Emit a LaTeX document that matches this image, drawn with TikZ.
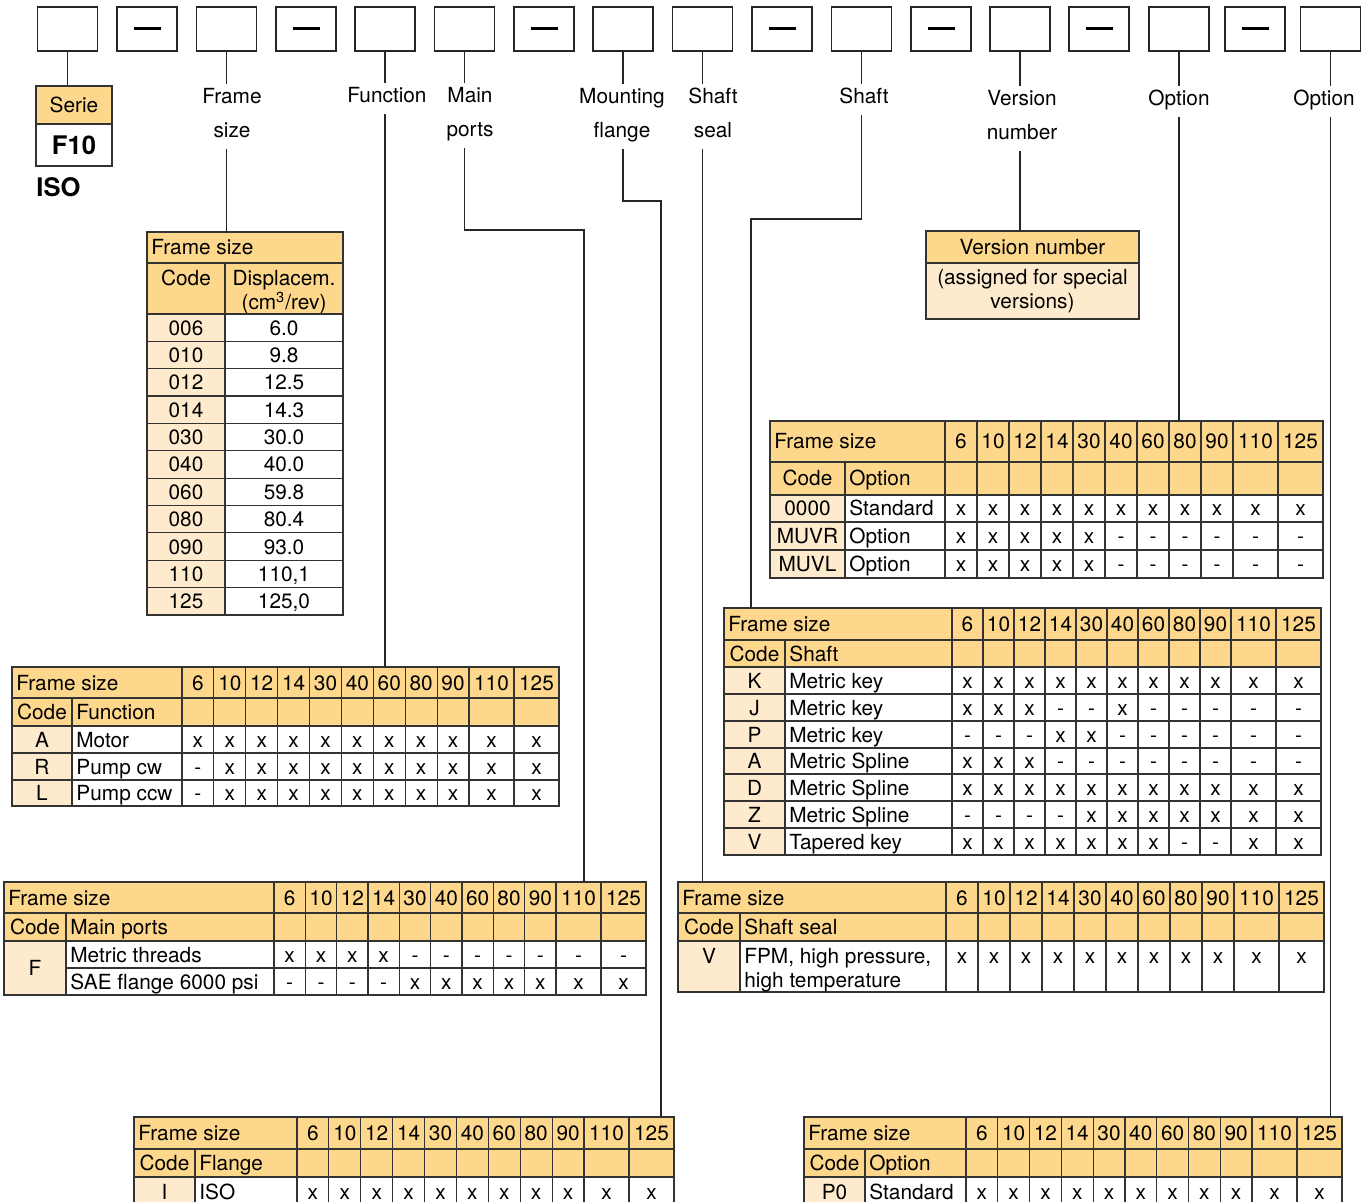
\documentclass[tikz,border=0pt]{standalone}
\usepackage{fontspec}
\setmainfont{TeX Gyre Heros}
\usepackage{tikz}
\usetikzlibrary{positioning}
\usepackage{xcolor}
\definecolor{tabhead}{RGB}{253,215,140}
\definecolor{tabcode}{RGB}{254,235,205}
\newcommand{\tabfont}{\fontsize{10.4}{12}\selectfont}

% table helpers: left edge, code/desc split, first size column, right edge
\newcommand{\settable}[4]{%
  \def\tabL{#1}\def\tabC{#2}\def\tabD{#3}%
  \pgfmathsetmacro{\colw}{(#4-#3-90)/9}}
% the 11 frame size cells of one row
\newcommand{\gridcells}[3]{%
  \foreach \k in {0,...,10}{%
    \pgfmathsetmacro{\cellL}{\tabD+min(\k,9)*\colw+max(\k-9,0)*45}%
    \pgfmathsetmacro{\cellR}{\cellL+ifthenelse(\k<9,\colw,45)}%
    \draw[cell,fill=#1] (\cellL,#2) rectangle (\cellR,#3);}}
\newcommand{\gridvals}[3]{%
  \foreach \cellv [count=\k from 0] in {#3}{%
    \pgfmathsetmacro{\cellM}{\tabD+min(\k,9)*\colw+max(\k-9,0)*45+ifthenelse(\k<9,\colw,45)/2}%
    \node[val] (#1-\k) at (\cellM,{#2}) {\cellv};}}
% name, top, middle, bottom, title of the code column
\newcommand{\headrows}[5]{%
  \coordinate (#1) at (\tabL,#2);
  \draw[cell,fill=tabhead] (\tabL,#2) rectangle (\tabD,#3);
  \node[desc] (#1-t) at (\tabL,{(#2+#3)/2}) {Frame size};
  \gridcells{tabhead}{#2}{#3}
  \gridvals{#1-n}{(#2+#3)/2}{6,10,12,14,30,40,60,80,90,110,125}
  \draw[cell,fill=tabhead] (\tabL,#3) rectangle (\tabC,#4);
  \draw[cell,fill=tabhead] (\tabC,#3) rectangle (\tabD,#4);
  \gridcells{tabhead}{#3}{#4}
  \node[val] (#1-c) at ({(\tabL+\tabC)/2},{(#3+#4)/2}) {Code};
  \node[desc] (#1-d) at (\tabC,{(#3+#4)/2}) {#5};}
\newcommand{\descrow}[5]{%
  \draw[cell,fill=white] (\tabC,#2) rectangle (\tabD,#3);
  \node[desc] (#1-d) at (\tabC,{(#2+#3)/2}) {#4};
  \gridcells{white}{#2}{#3}
  \gridvals{#1}{(#2+#3)/2}{#5}}
\newcommand{\datarow}[6]{%
  \draw[cell,fill=tabcode] (\tabL,#2) rectangle (\tabC,#3);
  \node[val] (#1-c) at ({(\tabL+\tabC)/2},{(#2+#3)/2}) {#4};
  \descrow{#1}{#2}{#3}{#5}{#6}}

\begin{document}
\begin{tikzpicture}[x=0.5pt,y=-0.5pt,
    cell/.style={draw=black!80,line width=0.6pt},
    wire/.style={draw=black!85,line width=0.6pt},
    val/.style={font=\tabfont,inner sep=0pt,text height=7.5pt,text depth=0pt},
    desc/.style={val,anchor=west,inner xsep=2pt},
    multi/.style={font=\tabfont,align=center,inner sep=2pt},
    lbl/.style={font=\fontsize{10.4}{17}\selectfont,align=center,anchor=north,
      inner xsep=0pt,inner ysep=2pt,text depth=3.5pt},
    slot/.style={draw=black!85,line width=0.6pt,minimum width=30pt,minimum height=22pt,
      inner sep=0pt,outer sep=0pt},
    dashbar/.style={line width=1.5pt},
    headbox/.style={draw=black!80,line width=0.6pt,fill=tabhead,font=\tabfont,
      inner sep=0pt,outer sep=0pt},
    bodybox/.style={headbox,fill=white}]
  \useasboundingbox (0,0) rectangle (1363,1202);
  \clip (0,0) rectangle (1363,1202);

  % ordering code slots
  \foreach \x [count=\i] in {67.5,147,226.5,306,385,464.5,544,623,702.5,782,861.5,941,1020,1099,1179,1255,1330.5}
    \node[slot] (b\i) at (\x,29) {};
  \foreach \i in {2,4,7,10,12,14,16}
    \draw[dashbar] ([xshift=-6.75pt]b\i.center) -- ([xshift=6.75pt]b\i.center);

  % labels under the slots
  \node[lbl] (lblFrame) at (232,84) {Frame\\size};
  \node[lbl] (lblFunc) at (387,83) {Function};
  \node[lbl] (lblMain) at (470,83) {Main\\ports};
  \node[lbl] (lblMount) at (622,84) {Mounting\\flange};
  \node[lbl] (lblSeal) at (713,84) {Shaft\\seal};
  \node[lbl] (lblShaft) at (864,84) {Shaft};
  \node[lbl] (lblVer) at (1022,86) {Version\\number};
  \node[lbl] (lblOpt1) at (1179,86) {Option};
  \node[lbl] (lblOpt2) at (1324,86) {Option};

  % serie
  \node[headbox,minimum width=38pt,minimum height=19pt] (serie) at (74,105) {Serie};
  \node[bodybox,minimum width=38pt,minimum height=21pt,below=0pt of serie,
    font=\fontsize{12.8}{14}\selectfont\bfseries] (f10) {F10};
  \node[anchor=west,inner sep=0pt,font=\fontsize{12.8}{14}\selectfont\bfseries] (isolbl) at (36,187) {ISO};

  % version number
  \node[headbox,minimum width=106.5pt,minimum height=16pt] (ver) at (1032.5,247) {Version number};
  \node[headbox,fill=tabcode,minimum width=106.5pt,minimum height=28pt,align=center,
    below=0pt of ver] (verb) {(assigned for special\\versions)};

  % frame size / displacement
  \coordinate (fs) at (147,232);
  \draw[cell,fill=tabhead] (147,232) rectangle (343,263);
  \node[desc] (fs-t) at (147,247.5) {Frame size};
  \draw[cell,fill=tabhead] (147,263) rectangle (225,314);
  \draw[cell,fill=tabhead] (225,263) rectangle (343,314);
  \node[val,anchor=north] (fs-c) at (186,270) {Code};
  \node[multi,anchor=north,inner sep=0pt] (fs-d) at (284,270) {Displacem.\\(cm\textsuperscript{3}/rev)};
  \foreach \c/\d [count=\i from 0] in {006/6.0,010/9.8,012/12.5,014/14.3,030/30.0,040/40.0,
      060/59.8,080/80.4,090/93.0,110/{110,1},125/{125,0}}{
    \pgfmathsetmacro{\ya}{314+\i*27.36}
    \pgfmathsetmacro{\yb}{\ya+27.36}
    \draw[cell,fill=tabcode] (147,\ya) rectangle (225,\yb);
    \draw[cell,fill=white] (225,\ya) rectangle (343,\yb);
    \node[val] (fs-c\i) at (186,{(\ya+\yb)/2}) {\c};
    \node[val] (fs-d\i) at (284,{(\ya+\yb)/2}) {\d};
  }

  % function
  \settable{12}{72}{182}{559}
  \headrows{fun}{667}{698}{726}{Function}
  \datarow{funA}{726}{753}{A}{Motor}{x,x,x,x,x,x,x,x,x,x,x}
  \datarow{funR}{753}{780}{R}{Pump cw}{-,x,x,x,x,x,x,x,x,x,x}
  \datarow{funL}{780}{806}{L}{Pump ccw}{-,x,x,x,x,x,x,x,x,x,x}

  % main ports
  \settable{4}{66}{274}{646}
  \headrows{mp}{882}{913}{941}{Main ports}
  \draw[cell,fill=tabcode] (4,941) rectangle (66,995);
  \node[val] (mpF) at (35,968) {F};
  \descrow{mpMT}{941}{968}{Metric threads}{x,x,x,x,-,-,-,-,-,-,-}
  \descrow{mpSAE}{968}{995}{SAE flange 6000 psi}{-,-,-,-,x,x,x,x,x,x,x}

  % flange
  \settable{134}{195}{297}{674}
  \headrows{fl}{1117}{1149}{1177}{Flange}
  \datarow{flI}{1177}{1206}{I}{ISO}{x,x,x,x,x,x,x,x,x,x,x}

  % option (version)
  \settable{770}{845}{945}{1323}
  \headrows{op}{421}{462}{495}{Option}
  \datarow{opStd}{495}{522}{0000}{Standard}{x,x,x,x,x,x,x,x,x,x,x}
  \datarow{opMUVR}{522}{550}{MUVR}{Option}{x,x,x,x,x,-,-,-,-,-,-}
  \datarow{opMUVL}{550}{578}{MUVL}{Option}{x,x,x,x,x,-,-,-,-,-,-}

  % shaft
  \settable{724}{785}{952}{1321}
  \headrows{sh}{608}{640}{667}{Shaft}
  \datarow{shK}{667}{694}{K}{Metric key}{x,x,x,x,x,x,x,x,x,x,x}
  \datarow{shJ}{694}{721}{J}{Metric key}{x,x,x,-,-,x,-,-,-,-,-}
  \datarow{shP}{721}{748}{P}{Metric key}{-,-,-,x,x,-,-,-,-,-,-}
  \datarow{shA}{748}{774}{A}{Metric Spline}{x,x,x,-,-,-,-,-,-,-,-}
  \datarow{shD}{774}{801}{D}{Metric Spline}{x,x,x,x,x,x,x,x,x,x,x}
  \datarow{shZ}{801}{828}{Z}{Metric Spline}{-,-,-,-,x,x,x,x,x,x,x}
  \datarow{shV}{828}{855}{V}{Tapered key}{x,x,x,x,x,x,x,-,-,x,x}

  % shaft seal
  \settable{678}{740}{946}{1324}
  \headrows{ss}{882}{913}{941}{Shaft seal}
  \draw[cell,fill=tabcode] (678,941) rectangle (740,992);
  \draw[cell,fill=white] (740,941) rectangle (946,992);
  \node[val] (ssV-c) at (709,956) {V};
  \node[multi,align=left,anchor=north west] (ssV-d) at (740,944) {FPM, high pressure,\\high temperature};
  \gridcells{white}{941}{992}
  \gridvals{ssV}{956}{x,x,x,x,x,x,x,x,x,x,x}

  % option
  \settable{804}{865}{966}{1342}
  \headrows{op2}{1117}{1149}{1177}{Option}
  \datarow{opP0}{1177}{1206}{P0}{Standard}{x,x,x,x,x,x,x,x,x,x,x}

  % connectors
  \coordinate (mp-bend) at (584,230);
  \coordinate (fl-bend) at (661,201);
  \coordinate (sh-bend) at (751,219);
  \draw[wire] (b1.south) -- (b1.south |- serie.north);
  \draw[wire] (b3.south) -- (b3.south |- lblFrame.north);
  \draw[wire] (b3.south |- lblFrame.south) -- (b3.south |- fs);
  \draw[wire] (b5.south) -- (b5.south |- lblFunc.north);
  \draw[wire] (b5.south |- lblFunc.south) -- (b5.south |- fun);
  \draw[wire] (b6.south) -- (b6.south |- lblMain.north);
  \draw[wire] (b6.south |- lblMain.south) |- (mp-bend) -- (mp-bend |- mp);
  \draw[wire] (b8.south) -- (b8.south |- lblMount.north);
  \draw[wire] (b8.south |- lblMount.south) |- (fl-bend) -- (fl-bend |- fl);
  \draw[wire] (b9.south) -- (b9.south |- lblSeal.north);
  \draw[wire] (b9.south |- lblSeal.south) -- (b9.south |- ss);
  \draw[wire] (b11.south) -- (b11.south |- lblShaft.north);
  \draw[wire] (b11.south |- lblShaft.south) |- (sh-bend) -- (sh-bend |- sh);
  \draw[wire] (b13.south) -- (b13.south |- lblVer.north);
  \draw[wire] (b13.south |- lblVer.south) -- (b13.south |- ver.north);
  \draw[wire] (b15.south) -- (b15.south |- lblOpt1.north);
  \draw[wire] (b15.south |- lblOpt1.south) -- (b15.south |- op);
  \draw[wire] (b17.south) -- (b17.south |- lblOpt2.north);
  \draw[wire] (b17.south |- lblOpt2.south) -- (b17.south |- op2);
\end{tikzpicture}
\end{document}
